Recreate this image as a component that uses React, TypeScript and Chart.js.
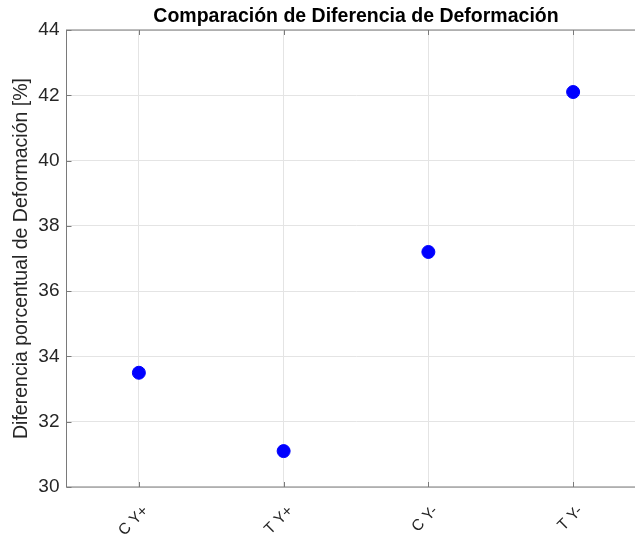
import React, { useEffect, useRef } from "react";
import { Chart, registerables } from "chart.js";

Chart.register(...registerables);

const categories = ["C Y+", "T Y+", "C Y-", "T Y-"];
const values = [33.5, 31.1, 37.2, 42.1];
const yTicks = [30, 32, 34, 36, 38, 40, 42, 44];
const titleText = "Comparación de Diferencia de Deformación";
const yLabel = "Diferencia porcentual de Deformación [%]";

const FONT = "'Liberation Sans', Arial, Helvetica, sans-serif";
const AXIS_COLOR = "#7a7a7a";

const boxPlugin = {
  id: "matlabBox",
  afterDraw(chart: any) {
    const { ctx, chartArea } = chart;
    const { left, right, top, bottom } = chartArea;
    ctx.save();
    ctx.strokeStyle = AXIS_COLOR;
    ctx.lineWidth = 1;
    ctx.strokeRect(left, top, right - left, bottom - top);
    const xs = chart.scales.x;
    const ys = chart.scales.y;
    ctx.beginPath();
    for (let i = 0; i < categories.length; i++) {
      const px = Math.round(xs.getPixelForValue(i)) + 0.5;
      ctx.moveTo(px, bottom);
      ctx.lineTo(px, bottom - 5);
      ctx.moveTo(px, top);
      ctx.lineTo(px, top + 5);
    }
    for (const v of yTicks) {
      const py = Math.round(ys.getPixelForValue(v)) + 0.5;
      ctx.moveTo(left, py);
      ctx.lineTo(left + 5, py);
      ctx.moveTo(right, py);
      ctx.lineTo(right - 5, py);
    }
    ctx.stroke();
    ctx.fillStyle = "#000";
    ctx.font = `bold 19.5px ${FONT}`;
    ctx.textAlign = "center";
    ctx.textBaseline = "middle";
    ctx.fillText(titleText, (left + right) / 2, 17);
    ctx.restore();
  },
};

export default function App() {
  const ref = useRef<HTMLCanvasElement>(null);
  useEffect(() => {
    if (!ref.current) return;
    const chart = new Chart(ref.current, {
      type: "line",
      data: {
        labels: categories,
        datasets: [
          {
            data: values,
            showLine: false,
            pointRadius: 6.5,
            pointBorderWidth: 1,
            pointBackgroundColor: "#0000ff",
            pointBorderColor: "#0000ff",
          },
        ],
      },
      options: {
        animation: false,
        responsive: true,
        maintainAspectRatio: false,
        layout: { padding: { top: 30, right: 14.5, left: 0, bottom: 0 } },
        plugins: {
          legend: { display: false },
          tooltip: { enabled: false },
          title: { display: false },
        },
        scales: {
          x: {
            type: "category",
            offset: true,
            grid: { color: "#e4e4e4", drawTicks: false, offset: false },
            border: { display: false },
            ticks: {
              color: "#262626",
              font: { size: 15.5, family: FONT },
              minRotation: 45,
              maxRotation: 45,
              padding: 15,
              labelOffset: 7,
            },
            afterFit: (s: any) => {
              s.height = 49;
            },
          },
          y: {
            min: 30,
            max: 44,
            afterBuildTicks: (s: any) => {
              s.ticks = yTicks.map((v) => ({ value: v }));
            },
            grid: { color: "#e4e4e4", drawTicks: false },
            border: { display: false },
            ticks: {
              color: "#262626",
              font: { size: 19, family: FONT },
              padding: 7,
            },
            title: {
              display: true,
              text: yLabel,
              color: "#262626",
              font: { size: 19.5, family: FONT },
              padding: { top: 10, bottom: 0 },
            },
            afterFit: (s: any) => {
              s.width = 66.5;
            },
          },
        },
      },
      plugins: [boxPlugin],
    });
    return () => chart.destroy();
  }, []);
  return (
    <div
      style={{
        position: "fixed",
        left: 0,
        top: 0,
        width: 635,
        height: 536,
        overflow: "hidden",
        background: "#fff",
      }}
    >
      <div style={{ position: "relative", width: 660, height: 536 }}>
        <canvas ref={ref} />
      </div>
    </div>
  );
}
